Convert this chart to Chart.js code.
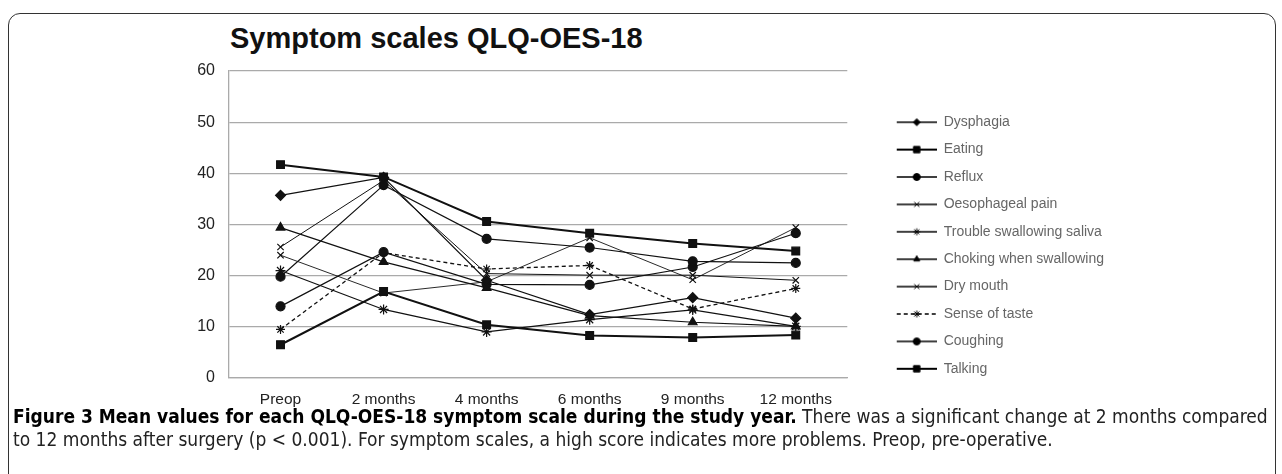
<!DOCTYPE html>
<html>
<head>
<meta charset="utf-8">
<script src="https://cdn.jsdelivr.net/npm/chart.js@4/dist/chart.umd.min.js"></script>
<style>
  body { margin: 0; background: #fff; width: 1282px; height: 474px; overflow: hidden; position: relative; font-family: "Liberation Sans", Arial, sans-serif; }
  #frame { position: absolute; left: 8px; top: 13px; width: 1266px; height: 520px; border: 1.3px solid #333; border-radius: 12px; }
  #title { position: absolute; left: 230px; top: 22px; font-weight: bold; font-size: 29px; line-height: 32px; color: #111; white-space: nowrap; }
  #wrap { position: absolute; left: 0; top: 0; width: 1282px; height: 420px; }
  #caption { position: absolute; left: 13px; top: 405px; font-family: "DejaVu Sans Condensed", "Liberation Sans", sans-serif; font-stretch: condensed; font-size: 19px; line-height: 23px; color: #222; white-space: nowrap; }
  #caption b { color: #000; }
</style>
</head>
<body>
<div id="frame"></div>
<div id="title">Symptom scales QLQ-OES-18</div>
<div id="wrap"><canvas id="qlqChart"></canvas></div>
<div id="caption"><b>Figure 3 Mean values for each QLQ-OES-18 symptom scale during the study year.</b> There was a significant change at 2 months compared<br>to 12 months after surgery (p &lt; 0.001). For symptom scales, a high score indicates more problems. Preop, pre-operative.</div>
<script>
const timepoints = ["Preop", "2 months", "4 months", "6 months", "9 months", "12 months"];
const yTicks = [0, 10, 20, 30, 40, 50, 60];

const dysphagia = [35.7, 39.2, 19.1, 12.4, 15.7, 11.7];
const eating = [41.7, 39.3, 30.6, 28.3, 26.3, 24.8];
const reflux = [19.8, 37.7, 27.2, 25.5, 22.8, 22.5];
const oesophagealPain = [25.6, 38.6, 20.4, 20.1, 20.1, 19.1];
const troubleSaliva = [21.0, 13.4, 9.0, 11.4, 13.3, 10.1];
const choking = [29.4, 22.7, 17.6, 12.2, 10.9, 10.1];
const dryMouth = [24.0, 16.6, 18.8, 27.4, 19.2, 29.4];
const senseOfTaste = [9.5, 24.5, 21.3, 22.0, 13.5, 17.5];
const coughing = [14.0, 24.6, 18.3, 18.2, 21.7, 28.3];
const talking = [6.5, 16.9, 10.4, 8.3, 7.9, 8.4];

const INK = "#111";
const GAP = 36;
const ICON_W = GAP + 40;

// legend icon: short line with the marker in the middle
function legendIcon(style, lineWidth, dash, radius) {
    const c = document.createElement("canvas");
    c.width = ICON_W;
    c.height = 14;
    const g = c.getContext("2d");
    g.strokeStyle = "#000";
    g.fillStyle = "#000";
    g.lineWidth = Math.max(1.4, lineWidth);
    g.setLineDash(dash);
    g.beginPath();
    g.moveTo(GAP, 7);
    g.lineTo(ICON_W, 7);
    g.stroke();
    g.setLineDash([]);
    g.lineWidth = 1;
    Chart.helpers.drawPoint(g, {pointStyle: style, radius: radius, rotation: 0, borderWidth: 1}, GAP + 20, 7);
    return c;
}

function series(label, data, style, lineWidth, radius, dash) {
    return {
        label: label,
        data: data,
        borderColor: INK,
        backgroundColor: INK,
        borderWidth: lineWidth,
        borderDash: dash || [],
        pointStyle: style,
        pointRadius: radius,
        pointBackgroundColor: INK,
        pointBorderColor: INK,
        pointBorderWidth: 1.2,
        tension: 0,
        fill: false,
        icon: legendIcon(style, lineWidth, dash || [], style === "rect" ? 4.5 : 3.5)
    };
}

const datasets = [
    series("Dysphagia", dysphagia, "rectRot", 1.2, 5),
    series("Eating", eating, "rect", 2, 5.5),
    series("Reflux", reflux, "circle", 1.2, 4.5),
    series("Oesophageal pain", oesophagealPain, "crossRot", 1, 4.5),
    series("Trouble swallowing saliva", troubleSaliva, "star", 1.2, 5),
    series("Choking when swallowing", choking, "triangle", 1.2, 5),
    series("Dry mouth", dryMouth, "crossRot", 0.9, 4.5),
    series("Sense of taste", senseOfTaste, "star", 1.3, 4.5, [4, 3]),
    series("Coughing", coughing, "circle", 1.2, 4.5),
    series("Talking", talking, "rect", 2, 5.5)
];

new Chart(document.getElementById("qlqChart"), {
    type: "line",
    data: { labels: timepoints, datasets: datasets },
    options: {
        responsive: true,
        maintainAspectRatio: false,
        animation: false,
        layout: { padding: { left: 179, top: 71, bottom: 12, right: 168 } },
        plugins: {
            tooltip: { enabled: false },
            legend: {
                position: "right",
                maxWidth: 400,
                title: { display: true, text: "", padding: 0, font: { size: 10 } },
                labels: {
                    usePointStyle: true,
                    boxWidth: ICON_W,
                    pointStyleWidth: ICON_W,
                    padding: 13.4,
                    color: "#222",
                    font: { size: 14, family: "'Liberation Sans', Arial, sans-serif" },
                    generateLabels: (chart) => chart.data.datasets.map((ds, i) => ({
                        text: ds.label,
                        pointStyle: ds.icon,
                        fillStyle: INK,
                        strokeStyle: INK,
                        lineWidth: 0,
                        hidden: false,
                        datasetIndex: i
                    }))
                }
            }
        },
        scales: {
            x: {
                offset: true,
                grid: { display: false, drawTicks: false },
                border: { display: true, color: "#aaa", width: 1.3 },
                ticks: { color: "#222", padding: 12, font: { size: 15.5, family: "'Liberation Sans', Arial, sans-serif" } },
                afterFit: (s) => { s.height = 30; }
            },
            y: {
                min: 0,
                max: 60,
                afterBuildTicks: (s) => { s.ticks = yTicks.map(v => ({ value: v })); },
                grid: { color: "#aaa", lineWidth: 1.3, drawTicks: false },
                border: { display: true, color: "#aaa", width: 1.3 },
                ticks: { color: "#222", padding: 14, font: { size: 16, family: "'Liberation Sans', Arial, sans-serif" } },
                afterFit: (s) => { s.width = 50; }
            }
        }
    }
});
</script>
</body>
</html>
